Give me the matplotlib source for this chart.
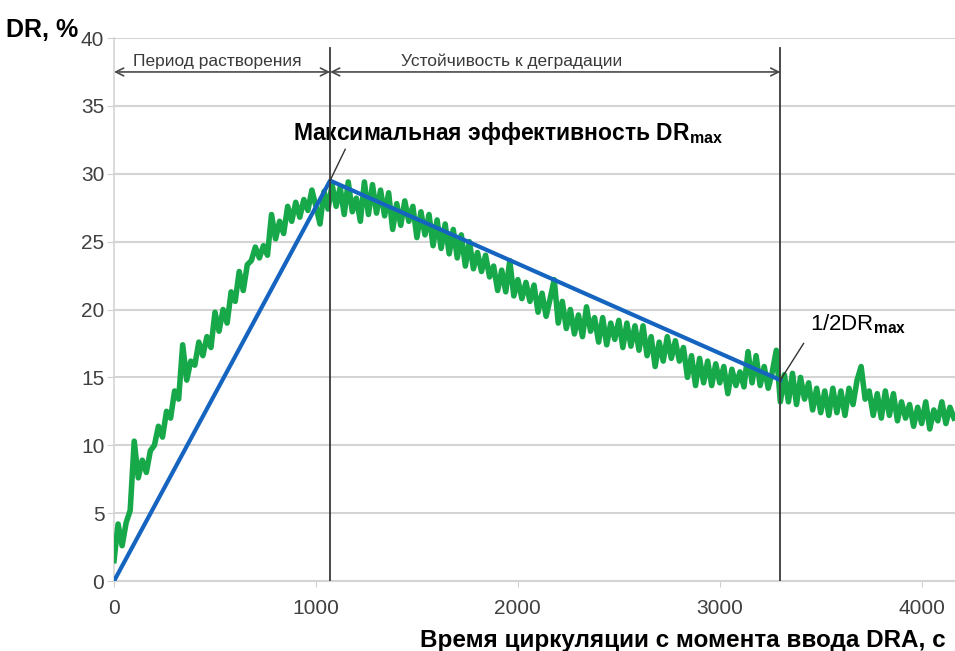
import numpy as np
import matplotlib.pyplot as plt

plt.rcParams['font.family'] = ['Liberation Sans', 'DejaVu Sans']
plt.rcParams['mathtext.fontset'] = 'custom'
plt.rcParams['mathtext.rm'] = 'Liberation Sans'
plt.rcParams['mathtext.bf'] = 'Liberation Sans:bold'

# Time of circulation, s (one reading every 20 s)
t = np.arange(0, 4161, 20)

# Drag reduction DR, %
dr = [
    1.5, 4.2, 2.6, 4.3, 5.2, 10.3, 7.6, 8.9, 8.0, 9.6,
    10.0, 11.4, 10.6, 12.5, 12.0, 14.0, 13.4, 17.4, 14.8, 16.2,
    15.9, 17.6, 16.6, 18.0, 17.2, 19.8, 18.4, 20.0, 19.0, 21.3,
    20.6, 22.8, 21.4, 23.3, 23.6, 24.6, 23.8, 24.7, 24.0, 27.0,
    25.2, 26.5, 25.6, 27.6, 26.5, 27.9, 26.8, 28.1, 27.3, 28.8,
    27.6, 26.3, 28.7, 27.4, 29.2, 27.6, 29.0, 27.0, 29.4, 27.2,
    28.2, 26.5, 29.4, 27.0, 29.2, 27.1, 28.8, 26.9, 28.6, 25.9,
    27.8, 26.2, 28.0, 26.5, 27.6, 25.3, 27.2, 25.5, 27.0, 24.7,
    26.6, 24.5, 26.3, 24.1, 25.9, 23.8, 25.5, 23.2, 25.0, 23.0,
    24.2, 22.8, 24.0, 22.4, 23.2, 21.4, 22.9, 21.3, 23.6, 21.0,
    22.2, 20.8, 22.0, 20.6, 21.8, 19.8, 21.2, 19.5, 20.8, 22.2,
    19.0, 20.6, 18.6, 20.0, 18.2, 19.6, 18.0, 20.2, 18.4, 19.4,
    17.6, 19.4, 17.4, 19.0, 17.8, 19.2, 17.2, 19.0, 17.3, 18.8,
    17.0, 18.8, 16.6, 18.0, 15.8, 17.6, 16.2, 18.0, 16.4, 17.7,
    16.2, 17.2, 15.0, 16.6, 14.4, 16.4, 14.6, 16.2, 14.4, 16.0,
    14.6, 15.8, 13.8, 15.6, 14.4, 15.4, 14.3, 16.9, 14.6, 16.6,
    14.4, 15.8, 14.2, 15.4, 17.0, 13.2, 15.2, 13.2, 15.3, 13.0,
    15.0, 13.4, 14.6, 12.6, 14.2, 12.4, 14.0, 12.2, 14.2, 12.4,
    14.0, 12.2, 14.2, 13.0, 14.8, 15.8, 13.4, 14.0, 12.2, 13.8,
    12.0, 14.0, 12.2, 13.8, 11.8, 13.2, 12.0, 13.0, 11.4, 12.8,
    11.6, 13.2, 11.2, 12.6, 11.8, 13.2, 11.6, 12.8, 12.0,
]

# Idealised trend: start, DRmax, 1/2 DRmax
trend_t = [0, 1070, 3300]
trend_dr = [0, 29.5, 14.8]

phase_labels = ['Период растворения', 'Устойчивость к деградации']

fig = plt.figure(figsize=(9.55, 6.51), dpi=100)
ax = fig.add_axes([0.1194, 0.1075, 0.8806, 0.8341])

ax.plot(t, dr, color='#17a84a', lw=4.0, solid_joinstyle='round', zorder=3)
ax.plot(trend_t, trend_dr, color='#1565c0', lw=3.0, zorder=4)

# phase borders
for xv in trend_t[1:]:
    ax.plot([xv, xv], [0, 39.3], color='#3a3a3a', lw=1.3, zorder=5)

# phase arrows
arr = dict(arrowstyle='<->', color='#4a4a4a', lw=1.2, mutation_scale=14,
           shrinkA=0, shrinkB=0)
ax.annotate('', xy=(0, 37.5), xytext=(trend_t[1], 37.5), arrowprops=arr)
ax.annotate('', xy=(trend_t[1], 37.5), xytext=(trend_t[2], 37.5),
            arrowprops=arr)
ax.text(510, 37.7, phase_labels[0], ha='center', va='bottom',
        fontsize=12.5, color='#3a3a3a')
ax.text(1970, 37.7, phase_labels[1], ha='center', va='bottom',
        fontsize=12.5, color='#3a3a3a')

# callouts
ax.plot([trend_t[1], trend_t[1] + 75], [trend_dr[1], 31.8], color='#333',
        lw=1.0, zorder=6)
ax.text(886, 33.0, r'Максимальная эффективность DR$_{\mathbf{max}}$',
        ha='left', va='center', fontsize=16.5, fontweight='bold')
ax.plot([trend_t[2], trend_t[2] + 115], [trend_dr[2], 17.5], color='#333',
        lw=1.0, zorder=6)
ax.text(3445, 18.9, r'1/2DR$_{\mathbf{max}}$', ha='left',
        va='center', fontsize=16)

ax.set_xlim(0, 4165)
ax.set_ylim(0, 40)
ax.set_xticks([0, 1000, 2000, 3000, 4000])
ax.set_yticks(np.arange(0, 41, 5))
ax.grid(axis='y', color='#d4d4d4', lw=1.5)
ax.set_axisbelow(True)
for s in ['top', 'right']:
    ax.spines[s].set_visible(False)
ax.spines['left'].set_color('#d4d4d4')
ax.spines['bottom'].set_color('#d4d4d4')
ax.spines['left'].set_linewidth(1.2)
ax.spines['bottom'].set_linewidth(1.5)
ax.tick_params(axis='both', colors='#d0d0d0', labelcolor='#404040',
               labelsize=15)
ax.tick_params(axis='y', length=5, pad=2)
ax.tick_params(axis='x', length=4, pad=9)

fig.text(0.006, 1 - 30 / 651, 'DR, %', fontsize=18, fontweight='bold',
         va='center', ha='left')
fig.text(0.99, 1 - 640 / 651, 'Время циркуляции с момента ввода DRA, с',
         fontsize=17.5, fontweight='bold', va='center', ha='right')

fig.savefig('out.png', dpi=100)
